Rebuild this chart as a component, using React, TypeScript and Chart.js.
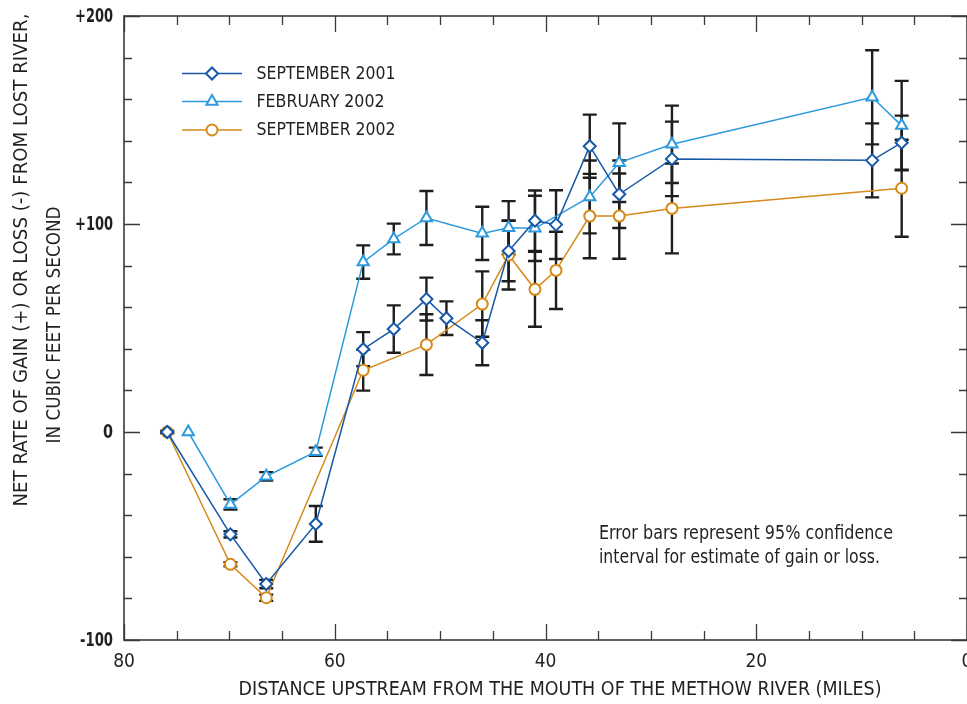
import React, { useEffect, useRef } from 'react';
import { Chart, registerables } from 'chart.js';

Chart.register(...registerables);

// ---------- DATA ----------
const sept2001Miles = [75.9, 69.9, 66.5, 61.8, 57.3, 54.4, 51.3, 49.4, 46.0, 43.5, 41.0, 39.0, 35.8, 33.0, 28.0, 9.0, 6.2];
const sept2001Values = [0, -49.2, -73.1, -44.2, 39.8, 49.5, 63.9, 54.7, 42.9, 87.0, 101.6, 99.7, 137.4, 114.3, 131.3, 130.6, 139.1];
const sept2001Errors = [0.5, 1.5, 2, 8.6, 8.2, 11.4, 10.3, 8.1, 10.8, 14.5, 14.5, 16.5, 15.2, 16.2, 17.9, 17.8, 13];

const feb2002Miles = [73.9, 69.9, 66.5, 61.8, 57.3, 54.4, 51.3, 46.0, 43.5, 41.0, 35.8, 33.0, 28.0, 9.0, 6.2];
const feb2002Values = [0, -34.8, -21.3, -9.5, 81.7, 92.8, 102.9, 95.5, 98.2, 97.9, 113, 129.5, 138.3, 160.9, 147.3];
const feb2002Errors = [0, 2.5, 2, 2, 8, 7.4, 13, 12.8, 12.8, 15.7, 17.5, 18.9, 18.6, 22.6, 21.5];

const sept2002Miles = [75.9, 69.9, 66.5, 57.3, 51.3, 46.0, 43.5, 41.0, 39.0, 35.8, 33.0, 28.0, 6.2];
const sept2002Values = [0, -63.6, -79.7, 29.7, 42.0, 61.5, 85.1, 68.6, 77.7, 103.8, 103.8, 107.5, 117.2];
const sept2002Errors = [0.5, 1, 1.5, 9.8, 14.6, 15.7, 16.6, 18, 18.6, 20.3, 20.5, 21.6, 23.3];

const seriesLabels = ['SEPTEMBER 2001', 'FEBRUARY 2002', 'SEPTEMBER 2002'];
const seriesColors = ['#1658a6', '#2e9ade', '#d58a1a'];
const seriesStyles = ['rectRot', 'triangle', 'circle'];
const seriesRadii = [6, 6.5, 5.5];

const xTitle = 'DISTANCE UPSTREAM FROM THE MOUTH OF THE METHOW RIVER (MILES)';
const yTitleLines = ['NET RATE OF GAIN (+) OR LOSS (-) FROM LOST RIVER,', 'IN CUBIC FEET PER SECOND'];
const noteLines = ['Error bars represent 95% confidence', 'interval for estimate of gain or loss.'];

const xMin = 0, xMax = 80, xMinorStep = 5, xMajorStep = 20;
const yMin = -100, yMax = 200, yMinorStep = 20, yMajorStep = 100;
const yTickLabels = ['-100', '0', '+100', '+200'];

const errorSets = [sept2001Errors, feb2002Errors, sept2002Errors];

const NARROW = '"Liberation Sans Narrow", "DejaVu Sans Condensed", "Roboto Condensed", "Liberation Sans", Arial, sans-serif';
const TEXT = '#231f20';

function fitText(ctx: CanvasRenderingContext2D, text: string, x: number, y: number, width: number, align: 'left' | 'center' | 'right') {
  const w = ctx.measureText(text).width;
  const s = width / w;
  ctx.save();
  ctx.translate(x, y);
  ctx.scale(s, 1);
  ctx.textAlign = align;
  ctx.textBaseline = 'middle';
  ctx.fillText(text, 0, 0);
  ctx.restore();
}

function drawMarker(ctx: CanvasRenderingContext2D, style: string, x: number, y: number, r: number, color: string) {
  ctx.beginPath();
  if (style === 'rectRot') {
    ctx.moveTo(x - r, y);
    ctx.lineTo(x, y - r);
    ctx.lineTo(x + r, y);
    ctx.lineTo(x, y + r);
    ctx.closePath();
  } else if (style === 'triangle') {
    ctx.moveTo(x, y - r);
    ctx.lineTo(x + 0.866 * r, y + 0.5 * r);
    ctx.lineTo(x - 0.866 * r, y + 0.5 * r);
    ctx.closePath();
  } else {
    ctx.arc(x, y, r, 0, Math.PI * 2);
  }
  ctx.fillStyle = '#fff';
  ctx.fill();
  ctx.lineWidth = 2;
  ctx.strokeStyle = color;
  ctx.stroke();
}

const errorBarPlugin = {
  id: 'errorBars',
  beforeDatasetsDraw(chart: any) {
    const ctx = chart.ctx as CanvasRenderingContext2D;
    const xs = chart.scales.x;
    const ys = chart.scales.y;
    ctx.save();
    ctx.strokeStyle = '#1e1e1e';
    ctx.lineWidth = 2.4;
    chart.data.datasets.forEach((ds: any, i: number) => {
      const errs = errorSets[i];
      ds.data.forEach((p: any, j: number) => {
        const e = errs[j];
        if (!e) return;
        const px = xs.getPixelForValue(p.x);
        const y1 = ys.getPixelForValue(p.y + e);
        const y2 = ys.getPixelForValue(p.y - e);
        ctx.beginPath();
        ctx.moveTo(px, y1);
        ctx.lineTo(px, y2);
        ctx.moveTo(px - 7, y1);
        ctx.lineTo(px + 7, y1);
        ctx.moveTo(px - 7, y2);
        ctx.lineTo(px + 7, y2);
        ctx.stroke();
      });
    });
    ctx.restore();
  },
};

const framePlugin = {
  id: 'frame',
  afterDatasetsDraw(chart: any) {
    const ctx = chart.ctx as CanvasRenderingContext2D;
    const { left, right, top, bottom } = chart.chartArea;
    const xs = chart.scales.x;
    const ys = chart.scales.y;
    ctx.save();
    ctx.strokeStyle = '#3a3a3a';
    ctx.lineWidth = 1.6;
    ctx.strokeRect(left, top, right - left, bottom - top);
    ctx.beginPath();
    for (let v = xMin; v <= xMax; v += xMinorStep) {
      const px = Math.round(xs.getPixelForValue(v)) + 0.5;
      const len = v % xMajorStep === 0 ? 16 : 9;
      ctx.moveTo(px, bottom);
      ctx.lineTo(px, bottom - len);
      ctx.moveTo(px, top);
      ctx.lineTo(px, top + len);
    }
    for (let v = yMin; v <= yMax; v += yMinorStep) {
      const py = Math.round(ys.getPixelForValue(v)) + 0.5;
      const len = v % yMajorStep === 0 ? 16 : 8;
      ctx.moveTo(left, py);
      ctx.lineTo(left + len, py);
      ctx.moveTo(right, py);
      ctx.lineTo(right - len, py);
    }
    ctx.lineWidth = 1.3;
    ctx.stroke();

    // y tick labels (condensed bold), positioned via the y scale
    ctx.fillStyle = TEXT;
    ctx.font = 'bold 19px ' + NARROW;
    yTickLabels.forEach((t) => {
      const v = Number(t);
      const py = ys.getPixelForValue(v);
      const w = t === '0' ? 10 : t.startsWith('-') ? 33 : 38;
      fitText(ctx, t, 113, py + 1, w, 'right');
    });
    ctx.restore();
  },
};

const textPlugin = {
  id: 'texts',
  afterDraw(chart: any) {
    const ctx = chart.ctx as CanvasRenderingContext2D;
    ctx.save();
    ctx.fillStyle = TEXT;
    // legend
    const rows = [73.5, 101.5, 130];
    const widths = [139, 128, 139];
    rows.forEach((ry, i) => {
      ctx.beginPath();
      ctx.strokeStyle = seriesColors[i];
      ctx.lineWidth = 1.6;
      ctx.moveTo(182, ry);
      ctx.lineTo(242, ry);
      ctx.stroke();
      drawMarker(ctx, seriesStyles[i], 212, ry, seriesRadii[i], seriesColors[i]);
      ctx.fillStyle = TEXT;
      ctx.font = '18px ' + NARROW;
      fitText(ctx, seriesLabels[i], 256.5, ry + 0.5, widths[i], 'left');
    });
    // note
    ctx.font = '19px ' + NARROW;
    fitText(ctx, noteLines[0], 599, 534, 294, 'left');
    fitText(ctx, noteLines[1], 599, 558, 281, 'left');
    // x title
    ctx.font = '19px ' + NARROW;
    fitText(ctx, xTitle, 560, 690, 643, 'center');
    // y title
    ctx.save();
    ctx.translate(22, 260);
    ctx.rotate(-Math.PI / 2);
    fitText(ctx, yTitleLines[0], 0, 0, 493, 'center');
    ctx.restore();
    ctx.save();
    ctx.translate(55, 325);
    ctx.rotate(-Math.PI / 2);
    fitText(ctx, yTitleLines[1], 0, 0, 237, 'center');
    ctx.restore();
    ctx.restore();
  },
};

function makeData(miles: number[], values: number[]) {
  return miles.map((m, i) => ({ x: m, y: values[i] }));
}

export default function App() {
  const ref = useRef<HTMLCanvasElement | null>(null);
  useEffect(() => {
    if (!ref.current) return;
    const allMiles = [sept2001Miles, feb2002Miles, sept2002Miles];
    const allValues = [sept2001Values, feb2002Values, sept2002Values];
    const chart = new Chart(ref.current, {
      type: 'line',
      data: {
        datasets: seriesLabels.map((label, i) => ({
          label,
          data: makeData(allMiles[i], allValues[i]),
          borderColor: seriesColors[i],
          backgroundColor: '#ffffff',
          borderWidth: 1.5,
          pointStyle: seriesStyles[i] as any,
          pointRadius: seriesRadii[i],
          pointBorderWidth: 2,
          pointBackgroundColor: '#ffffff',
          pointBorderColor: seriesColors[i],
          tension: 0,
          fill: false,
        })),
      },
      options: {
        responsive: false,
        animation: false,
        devicePixelRatio: 1,
        layout: { padding: { left: 0, top: 16, right: 23, bottom: 0 } },
        plugins: { legend: { display: false }, tooltip: { enabled: false }, title: { display: false } },
        scales: {
          x: {
            type: 'linear',
            reverse: true,
            min: xMin,
            max: xMax,
            grid: { display: false, drawTicks: false },
            border: { display: false },
            ticks: {
              stepSize: xMinorStep,
              autoSkip: false,
              maxRotation: 0,
              padding: 11,
              color: TEXT,
              font: { family: NARROW, size: 19 },
              callback: (v: any) => (Number(v) % xMajorStep === 0 ? String(v) : ''),
            },
            afterFit: (s: any) => { s.height = 64; },
          },
          y: {
            type: 'linear',
            min: yMin,
            max: yMax,
            grid: { display: false, drawTicks: false },
            border: { display: false },
            ticks: {
              stepSize: yMinorStep,
              autoSkip: false,
              display: false,
            },
            afterFit: (s: any) => { s.width = 124; },
          },
        },
      },
      plugins: [errorBarPlugin, framePlugin, textPlugin],
    } as any);
    return () => chart.destroy();
  }, []);

  return (
    <div style={{ position: 'fixed', left: 0, top: 0, width: 967, height: 704, overflow: 'hidden', background: '#fff' }}>
      <canvas ref={ref} width={990} height={704} style={{ width: 990, height: 704, display: 'block' }} />
    </div>
  );
}
